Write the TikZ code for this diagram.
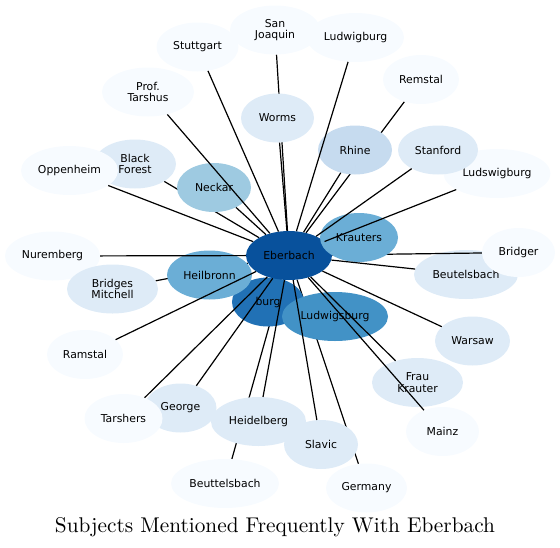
\documentclass[tikz,border=0pt]{standalone}
\usepackage{fontspec}
\usepackage{graphicx}
\usetikzlibrary{shapes.geometric}
\newfontfamily\nodefont{DejaVu Sans}
\definecolor{cA}{HTML}{F7FBFF}
\definecolor{cB}{HTML}{DEEBF7}
\definecolor{cC}{HTML}{C6DBEF}
\definecolor{cD}{HTML}{9ECAE1}
\definecolor{cE}{HTML}{6BAED6}
\definecolor{cF}{HTML}{4292C6}
\definecolor{cG}{HTML}{2171B5}
\definecolor{cH}{HTML}{08519C}
\pgfdeclarelayer{back}
\pgfdeclarelayer{front}
\pgfsetlayers{back,main,front}
\tikzset{
  nd/.style={ellipse, draw=none, inner sep=0pt, minimum height=49pt, align=center,
    font=\nodefont\fontsize{10.85}{11.7}\selectfont, text=black},
  link/.style={draw=black, line width=1.2pt}
}
\begin{document}
\begin{tikzpicture}[x=1pt,y=-1pt]
\useasboundingbox (0,0) rectangle (560,547);
% nodes (drawing order matters)
\node[nd, fill=cG, minimum width=72pt] (burg) at (268,302) {burg};
\node[nd, fill=cH, minimum width=86pt] (eberbach) at (289,255.5) {Eberbach};
\node[nd, fill=cE, minimum width=85pt] (heilbronn) at (209.5,275) {Heilbronn};
\node[nd, fill=cF, minimum width=106pt] (ludwigsburg) at (335,316.5) {Ludwigsburg};
\node[nd, fill=cA, minimum width=82pt] (stuttgart) at (197.5,47) {Stuttgart};
\node[nd, fill=cA, minimum width=97pt] (ludwigburg) at (355.5,37.5) {Ludwigburg};
\node[nd, fill=cA, minimum width=90pt] (sanjoaquin) at (275,30) {San\\Joaquin};
\node[nd, fill=cA, minimum width=76pt] (remstal) at (421,79.5) {Remstal};
\node[nd, fill=cA, minimum width=92pt] (tarshus) at (148,92) {Prof.\\Tarshus};
\node[nd, fill=cB, minimum width=73pt] (worms) at (277.5,118) {Worms};
\node[nd, fill=cC, minimum width=74pt] (rhine) at (355,150) {Rhine};
\node[nd, fill=cA, minimum width=107pt] (ludswigburg) at (497,173.5) {Ludswigburg};
\node[nd, fill=cB, minimum width=80pt] (stanford) at (438,150) {Stanford};
\node[nd, fill=cB, minimum width=82pt] (blackforest) at (135,164) {Black\\Forest};
\node[nd, fill=cA, minimum width=97pt] (oppenheim) at (69.5,170.5) {Oppenheim};
\node[nd, fill=cD, minimum width=74pt] (neckar) at (214,187.5) {Neckar};
\node[nd, fill=cB, minimum width=104pt] (beutelsbach) at (466,274.5) {Beutelsbach};
\node[nd, fill=cA, minimum width=73pt] (bridger) at (518.5,252.5) {Bridger};
\draw[link] (bridger) -- (eberbach);
\node[nd, fill=cE, minimum width=78pt] (krauters) at (359,237.5) {Krauters};
\node[nd, fill=cA, minimum width=95pt] (nuremberg) at (52.5,256) {Nuremberg};
\node[nd, fill=cB, minimum width=91pt] (bridges) at (112.5,289) {Bridges\\Mitchell};
\node[nd, fill=cB, minimum width=75pt] (warsaw) at (472.5,341) {Warsaw};
\node[nd, fill=cB, minimum width=91pt] (frau) at (417.5,382.5) {Frau\\Krauter};
\node[nd, fill=cA, minimum width=73pt] (mainz) at (442.5,431.5) {Mainz};
\node[nd, fill=cB, minimum width=95pt] (heidelberg) at (258.5,421.5) {Heidelberg};
\node[nd, fill=cA, minimum width=81pt] (germany) at (366.5,488) {Germany};
\node[nd, fill=cB, minimum width=74pt] (slavic) at (321,444.5) {Slavic};
\node[nd, fill=cB, minimum width=72pt] (george) at (180.5,408) {George};
\node[nd, fill=cA, minimum width=78pt] (tarshers) at (123.5,418.5) {Tarshers};
\node[nd, fill=cA, minimum width=76pt] (ramstal) at (85,354.5) {Ramstal};
\node[nd, fill=cA, minimum width=108pt] (beuttelsbach) at (225,483.5) {Beuttelsbach};
% edges hidden beneath nodes
\begin{pgfonlayer}{back}
\foreach \n in {blackforest,bridges,remstal,sanjoaquin,germany,beuttelsbach}
  \draw[link] (\n) -- (eberbach);
\end{pgfonlayer}
% edges drawn over nodes
\begin{pgfonlayer}{front}
\foreach \n in {stuttgart,ludwigburg,tarshus,worms,rhine,stanford,ludswigburg,oppenheim,neckar,nuremberg,beutelsbach,ramstal,warsaw,frau,mainz,slavic,heidelberg,george,tarshers}
  \draw[link] (\n) -- (eberbach);
\end{pgfonlayer}
% title
\node[anchor=base, inner sep=0pt] (title) at (275,532)
  {\resizebox{440pt}{!}{\rmfamily Subjects Mentioned Frequently With Eberbach}};
\end{tikzpicture}
\end{document}
